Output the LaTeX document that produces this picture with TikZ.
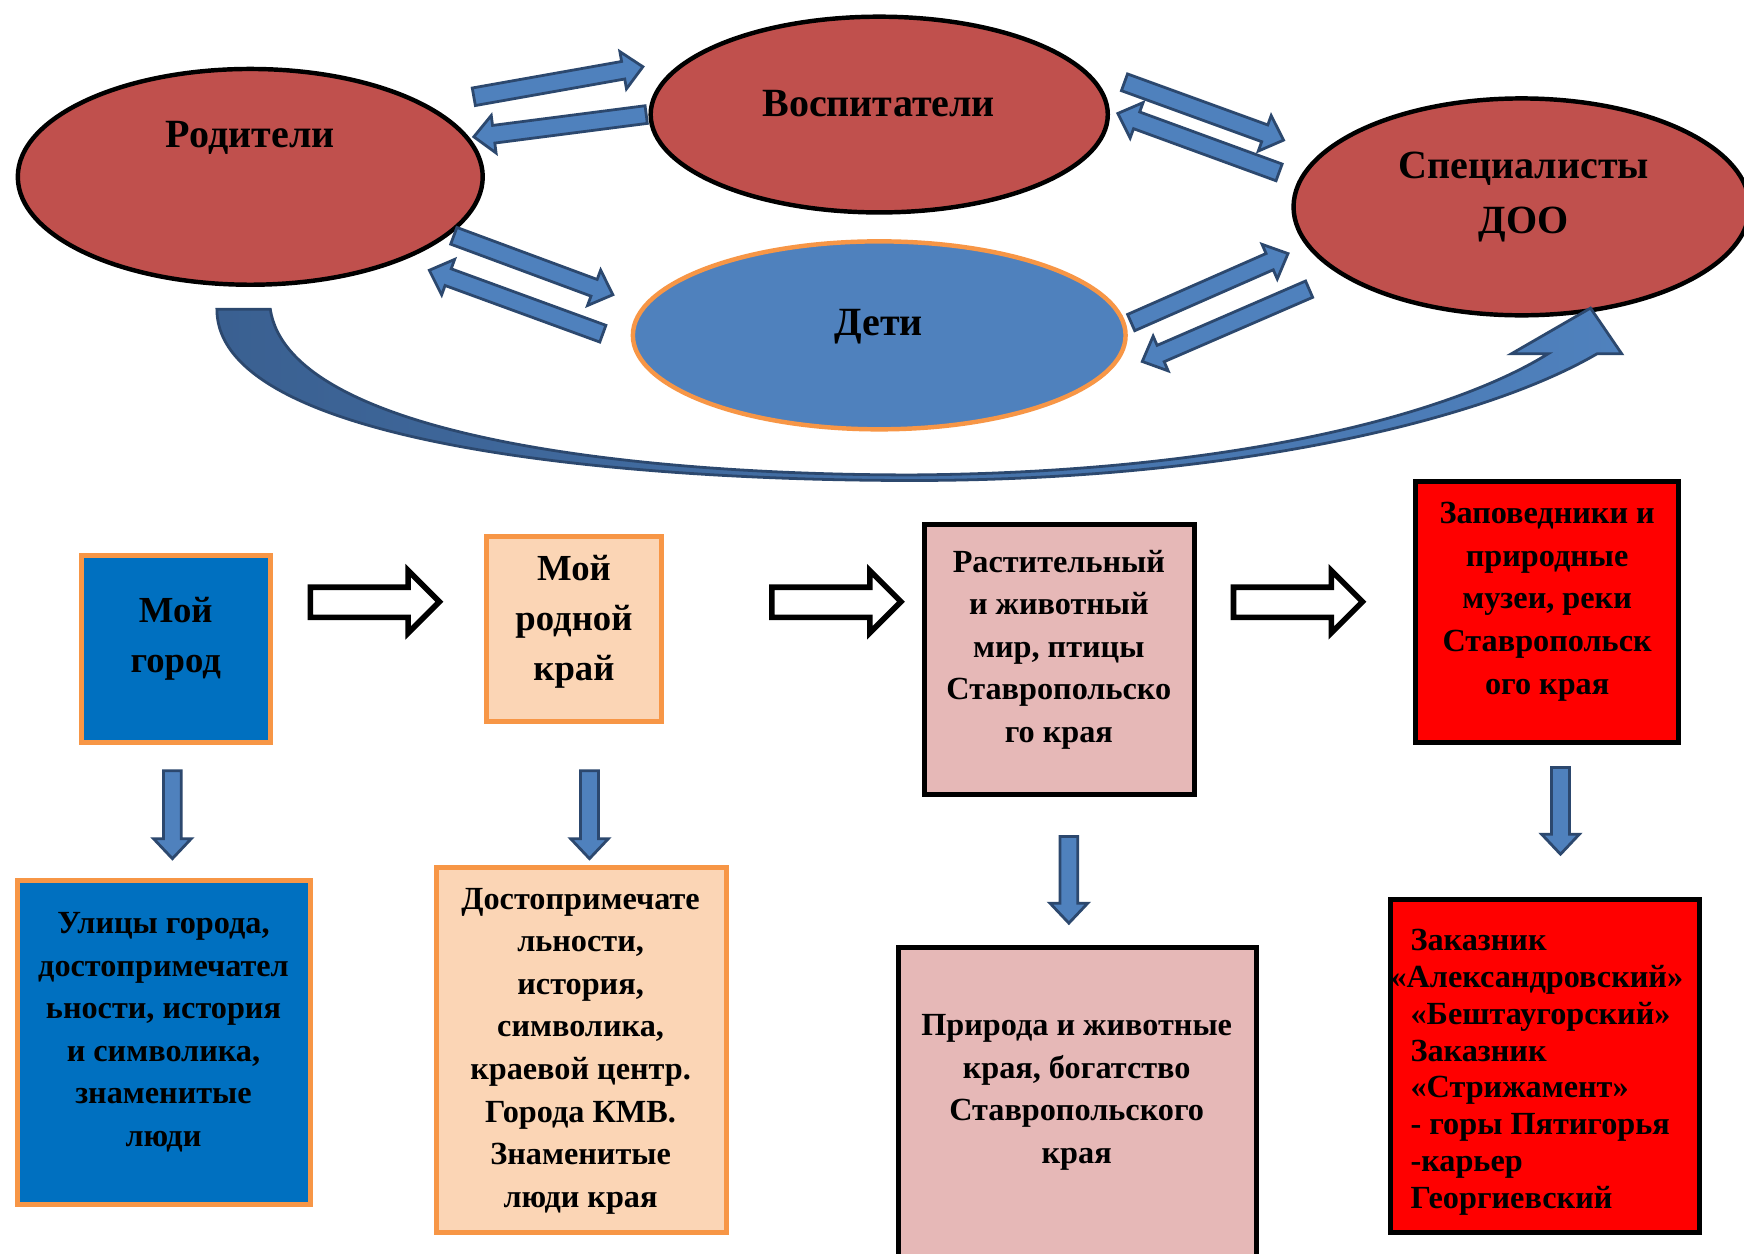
\documentclass[tikz,border=0pt]{standalone}
\usepackage{fontspec}
\setmainfont{Liberation Serif}
\usepackage{tikz}
\usetikzlibrary{arrows.meta}
\usetikzlibrary{positioning}
\usetikzlibrary{calc}
\usetikzlibrary{shapes.geometric}
\definecolor{ellred}{RGB}{192,80,77}
\definecolor{ellblue}{RGB}{79,129,189}
\definecolor{arrline}{RGB}{44,72,110}
\definecolor{curvdark}{RGB}{58,96,145}
\definecolor{boxorange}{RGB}{247,150,70}
\definecolor{cityblue}{RGB}{0,112,192}
\definecolor{peach}{RGB}{251,213,181}
\definecolor{rosebox}{RGB}{230,184,183}

\tikzset{
  oval/.style={ellipse, draw, line width=4, fill=ellred, inner sep=0},
  elltext/.style={font=\fontsize{36}{50}\selectfont\bfseries, align=center},
  boxtext/.style={font=\fontsize{29}{38.3}\selectfont\bfseries, align=center, inner sep=0},
  bigtext/.style={font=\fontsize{33}{45}\selectfont\bfseries, align=center, inner sep=0},
  tile/.style={draw, line width=4.5, inner sep=0},
  fatarr/.style={fill=ellblue, draw=arrline, line width=2.5},
  hollowarr/.style={fill=white, draw=black, line width=5}
}

% block arrow from #1 to #2
\newcommand{\fatarrow}[2]{%
  \coordinate (fah) at ($(#2)!18pt!(#1)$);
  \draw[fatarr] ($(#1)!8pt!90:(#2)$) -- ($(fah)!8pt!-90:(#1)$) -- ($(fah)!17pt!-90:(#1)$)
    -- (#2) -- ($(fah)!17pt!90:(#1)$) -- ($(fah)!8pt!90:(#1)$) -- ($(#1)!8pt!-90:(#2)$) -- cycle;}

\begin{document}
\begin{tikzpicture}[x=1pt,y=-1pt]
\useasboundingbox (0,0) rectangle (1568,1127);
\fill[white] (0,0) rectangle (1568,1127);
\clip (0,0) rectangle (1568,1127);

% ellipses
\node[oval, minimum width=418, minimum height=194] (rod) at (225,159) {};
\node[oval, minimum width=411, minimum height=176] (vosp) at (790.5,103) {};
\node[oval, minimum width=410, minimum height=195] (spec) at (1368,186) {};
\node[oval, draw=boxorange, line width=4, fill=ellblue, minimum width=443, minimum height=169] (deti) at (790.5,301.5) {};
\node[elltext, anchor=base] (rodt) at (225,133) {Родители};
\node[elltext, anchor=base] (vospt) at (790,105) {Воспитатели};
\node[elltext] (spect) at (1370,177) {Специалисты\\ДОО};
\node[elltext, anchor=base] (detit) at (790,302) {Дети};

% arrows between ellipses
\coordinate (a1) at (426,87);   \coordinate (b1) at (578,60);
\coordinate (a2) at (581,103);  \coordinate (b2) at (426,123);
\coordinate (a3) at (1011,74);  \coordinate (b3) at (1154,126);
\coordinate (a4) at (1150,155); \coordinate (b4) at (1005,102);
\coordinate (a5) at (408,212);  \coordinate (b5) at (551,265);
\coordinate (a6) at (542,300);  \coordinate (b6) at (386,243);
\coordinate (a7) at (1017,290); \coordinate (b7) at (1158,228);
\coordinate (a8) at (1177,260); \coordinate (b8) at (1027,325);
\foreach \i in {1,...,8} {\fatarrow{a\i}{b\i}}

% curved arrow from parents to specialists
\shadedraw[left color=curvdark, right color=ellblue, draw=arrline, line width=2.5]
  (195,278) -- (243,278) .. controls (260,390) and (560,427) .. (820,427)
  .. controls (1100,425) and (1300,375) .. (1392,318) -- (1359,318) -- (1430,277)
  -- (1458,318) -- (1436,318) .. controls (1330,380) and (1100,432) .. (820,432)
  .. controls (560,432) and (195,400) .. (195,278) -- cycle;

% first row
\node[tile, draw=boxorange, fill=cityblue, minimum width=170, minimum height=169] (gorod) at (158,583.5) {};
\node[tile, draw=boxorange, fill=peach, minimum width=158, minimum height=167] (kray) at (516,565.5) {};
\node[tile, fill=rosebox, minimum width=243, minimum height=242] (mir) at (952.5,593) {};
\node[tile, fill=red, minimum width=236, minimum height=235] (zapov) at (1391,550.5) {};
\node[bigtext] (gorodt) at (158,574) {Мой\\город};
\node[bigtext] (krayt) at (516,559) {Мой\\родной\\край};
\node[boxtext] (mirt) at (952,584) {Растительный\\и животный\\мир, птицы\\Ставропольско\\го края};
\node[boxtext] (zapovt) at (1391,541) {Заповедники и\\природные\\музеи, реки\\Ставропольск\\ого края};

\foreach \hx in {279,694,1109}
  \draw[hollowarr] (\hx,528) -- ++(88,0) -- ++(0,-15) -- ++(28,28) -- ++(-28,28) -- ++(0,-14) -- ++(-88,0) -- cycle;

% second row
\node[tile, draw=boxorange, fill=cityblue, minimum width=263, minimum height=291] (ulicy) at (147.5,937.5) {};
\node[tile, draw=boxorange, fill=peach, minimum width=261, minimum height=328] (dostop) at (522.5,944) {};
\node[tile, fill=rosebox, minimum width=322, minimum height=300] (priroda) at (969,1002) {};
\node[tile, fill=red, minimum width=278, minimum height=299] (zakaz) at (1389,958.5) {};
\node[boxtext] (ulicyt) at (147,928) {Улицы города,\\достопримечател\\ьности, история\\и символика,\\знаменитые\\люди};
\node[boxtext] (dostopt) at (522,945) {Достопримечате\\льности,\\история,\\символика,\\краевой центр.\\Города КМВ.\\Знаменитые\\люди края};
\node[boxtext] (prirodat) at (968,982) {Природа и животные\\края, богатство\\Ставропольского\\края};
\node[boxtext, font=\fontsize{29}{33.1}\selectfont\bfseries, align=left, anchor=west] (zakazt) at (1268,964)
  {Заказник\\\hspace*{-18pt}«Александровский»\\«Бештаугорский»\\Заказник\\«Стрижамент»\\- горы Пятигорья\\-карьер\\Георгиевский};

% down arrows
\coordinate (d1) at (155,693);  \coordinate (e1) at (155,772);
\coordinate (d2) at (530,693);  \coordinate (e2) at (530,772);
\coordinate (d3) at (961,752);  \coordinate (e3) at (961,830);
\coordinate (d4) at (1403,690); \coordinate (e4) at (1403,768);
\foreach \i in {1,...,4} {\fatarrow{d\i}{e\i}}
\end{tikzpicture}
\end{document}
